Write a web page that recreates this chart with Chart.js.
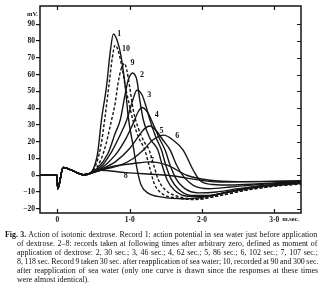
<!DOCTYPE html>
<html>
<head>
<meta charset="utf-8">
<script src="https://cdn.jsdelivr.net/npm/chart.js@4/dist/chart.umd.min.js"></script>
<style>
  html, body { margin: 0; padding: 0; background: #fff; }
  #wrap { position: relative; width: 320px; height: 286px; overflow: hidden; }
  #chart { position: absolute; left: 0; top: 0; }
  #caption { position: absolute; left: 0; top: 230px; width: 320px;
             font-family: "Liberation Serif", "DejaVu Serif", serif; font-size: 7.9px;
             line-height: 9px; color: #111; }
  #caption div { position: absolute; white-space: nowrap; }
</style>
</head>
<body>
<div id="wrap">
  <canvas id="chart" width="320" height="286"></canvas>
  <div id="caption"></div>
</div>
<script>
// time in m.sec., potential in mV
var leadIn = [[-0.24, 0], [-0.005, 0], [0.005, -8], [0.08, 4.6], [0.22, 2.6], [0.36, 0.3]];

var rec1 = [[0.42, 0.6], [0.5, 4], [0.56, 14], [0.61, 33], [0.68, 53], [0.73, 73], [0.775, 84.2], [0.84, 78.6], [0.89, 68.7], [0.94, 52.7], [0.98, 35], [1.05, 17], [1.11, 2], [1.16, -6], [1.25, -10.5], [1.45, -13], [1.75, -14], [2.05, -12.8], [2.35, -10.2], [2.75, -7.3], [3.37, -4.8]];
var rec2 = [[0.42, 0.6], [0.55, 4], [0.7, 13], [0.8, 25], [0.87, 33], [0.94, 48.8], [0.98, 56.7], [1.04, 61], [1.1, 56.7], [1.14, 44.8], [1.19, 32.8], [1.28, 22], [1.39, 15], [1.45, 6], [1.52, -3], [1.62, -9], [1.8, -12.5], [2.05, -12.5], [2.35, -10], [2.7, -7], [3.37, -4.5]];
var rec3 = [[0.42, 0.6], [0.6, 5], [0.75, 14], [0.88, 25], [0.96, 33], [1.03, 43], [1.1, 50.7], [1.17, 48], [1.22, 42], [1.28, 33], [1.36, 23], [1.44, 15], [1.5, 6], [1.57, -2], [1.67, -8], [1.85, -12], [2.1, -12], [2.4, -9.5], [2.8, -6.5], [3.37, -4.5]];
var rec4 = [[0.42, 0.6], [0.6, 4], [0.8, 12], [0.95, 22], [1.05, 31], [1.12, 38], [1.17, 40.4], [1.24, 38], [1.32, 31], [1.4, 23], [1.49, 15], [1.56, 6], [1.64, -2], [1.75, -7.5], [1.95, -10.5], [2.2, -10], [2.5, -8], [2.9, -6], [3.37, -4.3]];
var rec5 = [[0.42, 0.6], [0.6, 3.5], [0.8, 8], [1.0, 16], [1.12, 23], [1.2, 27.5], [1.28, 29.4], [1.36, 27], [1.46, 21], [1.56, 15], [1.65, 6], [1.75, -1], [1.88, -6], [2.1, -8], [2.4, -7], [2.8, -5.5], [3.37, -4]];
var rec6 = [[0.42, 0.6], [0.6, 3], [0.87, 6], [1.05, 10], [1.19, 15], [1.32, 21], [1.47, 23.9], [1.6, 21], [1.74, 15], [1.88, 3], [1.97, -3], [2.15, -5.5], [2.4, -5.8], [2.8, -5], [3.37, -3.8]];
var rec7 = [[0.42, 0.6], [0.59, 3], [0.8, 5.5], [1.05, 7], [1.28, 8], [1.52, 6], [1.79, 0], [2.11, -3], [2.5, -3.8], [3.37, -3.5]];
var rec8 = [[0.42, 0.6], [0.59, 3], [0.94, 1.6], [1.52, 0], [2.25, -4], [2.8, -3.8], [3.37, -3.2]];
var rec9 = [[0.42, 0.6], [0.55, 5], [0.65, 15], [0.75, 33], [0.8, 43], [0.84, 55], [0.88, 63], [0.93, 66.7], [0.96, 62.7], [1.0, 52.7], [1.05, 38.8], [1.12, 28], [1.2, 20], [1.27, 15], [1.34, 5], [1.4, -3], [1.5, -9], [1.7, -13], [1.95, -14], [2.25, -12], [2.6, -9], [3.0, -6.5], [3.37, -5]];
var rec10 = [[0.42, 0.6], [0.52, 5], [0.6, 17], [0.66, 35], [0.72, 56], [0.76, 70], [0.8, 77.6], [0.85, 73], [0.9, 63], [0.94, 53], [0.98, 45], [1.05, 32], [1.13, 22], [1.21, 15], [1.28, 4], [1.34, -5], [1.45, -11], [1.65, -13.5], [1.9, -14.5], [2.2, -12.5], [2.6, -9], [3.0, -6.5], [3.37, -5.2]];

var records = [rec1, rec2, rec3, rec4, rec5, rec6, rec7, rec8, rec9, rec10];
var recordNames = ['1', '2', '3', '4', '5', '6', '7', '8', '9', '10'];
var dashedRecords = ['9', '10'];
// where the record numbers are written (m.sec., mV)
var nameSpots = [[0.857, 84.5], [1.17, 59.7], [1.27, 47.8], [1.375, 35.8], [1.44, 26.4], [1.66, 23.5], [1.31, 8.5], [0.946, -0.6], [1.04, 66.7], [0.95, 75.2]];

var xTicks = [0, 1, 2, 3];
var yTicks = [-20, -10, 0, 10, 20, 30, 40, 50, 60, 70, 80, 90];

var captionLines = [
    'Fig. 3.  Action of isotonic dextrose.  Record 1: action potential in sea water just before application',
    'of dextrose.  2\u20138: records taken at following times after arbitrary zero, defined as moment of',
    'application of dextrose: 2, 30 sec.; 3, 46 sec.; 4, 62 sec.; 5, 86 sec.; 6, 102 sec.; 7, 107 sec.;',
    '8, 118 sec.  Record 9 taken 30 sec. after reapplication of sea water; 10, recorded at 90 and 300 sec.',
    'after reapplication of sea water (only one curve is drawn since the responses at these times',
    'were almost identical).'
];

var ink = '#151515';
var serif = '"Liberation Serif", "DejaVu Serif", serif';

var datasets = records.map(function(rec, i) {
    var pts = leadIn.concat(rec).map(function(p) { return {x: p[0], y: p[1]}; });
    var dashed = dashedRecords.indexOf(recordNames[i]) >= 0;
    return {
        label: recordNames[i],
        data: pts,
        borderColor: ink,
        borderWidth: 1.4,
        borderDash: dashed ? [3, 2] : [],
        pointRadius: 0,
        cubicInterpolationMode: 'monotone',
        fill: false
    };
});

var paperPlugin = {
    id: 'paper',
    afterDraw: function(chart) {
        var ctx = chart.ctx;
        var a = chart.chartArea;
        var xs = chart.scales.x, ys = chart.scales.y;
        ctx.save();
        ctx.strokeStyle = ink;
        ctx.lineWidth = 1.5;
        ctx.strokeRect(a.left, a.top, a.right - a.left, a.bottom - a.top);

        // inward ticks on the right, top and bottom
        ctx.lineWidth = 1.2;
        ctx.beginPath();
        yTicks.forEach(function(v) {
            var py = Math.round(ys.getPixelForValue(v)) + 0.5;
            ctx.moveTo(a.right, py);
            ctx.lineTo(a.right - 4, py);
        });
        xTicks.forEach(function(v) {
            var px = Math.round(xs.getPixelForValue(v)) + 0.5;
            ctx.moveTo(px, a.bottom);
            ctx.lineTo(px, a.bottom - 4);
            ctx.moveTo(px, a.top);
            ctx.lineTo(px, a.top + 4);
        });
        ctx.stroke();

        ctx.fillStyle = ink;
        ctx.font = 'bold 6.5px ' + serif;
        ctx.textAlign = 'left';
        ctx.textBaseline = 'middle';
        ctx.fillText('mV.', a.left - 13, a.top + 8);
        ctx.fillText('m.sec.', xs.getPixelForValue(3) + 8, a.bottom + 6);

        ctx.font = 'bold 8px ' + serif;
        ctx.textAlign = 'center';
        nameSpots.forEach(function(p, i) {
            ctx.fillText(recordNames[i], xs.getPixelForValue(p[0]), ys.getPixelForValue(p[1]));
        });
        ctx.restore();
    }
};

new Chart(document.getElementById('chart'), {
    type: 'line',
    data: { datasets: datasets },
    options: {
        responsive: false,
        animation: false,
        events: [],
        layout: { padding: { top: 6, right: 19, left: 0, bottom: 0 } },
        plugins: { legend: { display: false }, tooltip: { enabled: false } },
        scales: {
            x: {
                type: 'linear',
                min: -0.24,
                max: 3.37,
                afterBuildTicks: function(s) { s.ticks = xTicks.map(function(v) { return {value: v}; }); },
                afterFit: function(s) { s.height = 73; },
                grid: { drawOnChartArea: false, drawTicks: false },
                border: { display: false },
                ticks: {
                    padding: 3,
                    color: ink,
                    maxRotation: 0,
                    font: { family: serif, size: 7.5, weight: 'bold' },
                    callback: function(v) { return v === 0 ? '0' : v + '\u00b70'; }
                }
            },
            y: {
                min: -22.5,
                max: 100.9,
                afterBuildTicks: function(s) { s.ticks = yTicks.map(function(v) { return {value: v}; }); },
                afterFit: function(s) { s.width = 40; },
                grid: { drawOnChartArea: false, tickLength: 4, color: ink, lineWidth: 1.2 },
                border: { display: false },
                ticks: {
                    padding: 1,
                    color: ink,
                    font: { family: serif, size: 7.5, weight: 'bold' },
                    callback: function(v) { return v < 0 ? '\u2212' + Math.abs(v) : '' + v; }
                }
            }
        }
    },
    plugins: [paperPlugin]
});

// caption, each line stretched to the column width like the printed page
var cap = document.getElementById('caption');
captionLines.forEach(function(line, i) {
    var d = document.createElement('div');
    var left = i === 0 ? 5 : 17;
    d.style.left = left + 'px';
    d.style.top = (i * 9) + 'px';
    if (i === 0) {
        d.innerHTML = '<b>Fig. 3.</b>' + line.slice(7);
    } else {
        d.textContent = line;
    }
    cap.appendChild(d);
    if (i < captionLines.length - 1) {
        var gaps = line.split(' ').length - 1;
        var extra = (318 - left) - d.getBoundingClientRect().width;
        d.style.wordSpacing = (extra / gaps) + 'px';
    }
});
</script>
</body>
</html>
